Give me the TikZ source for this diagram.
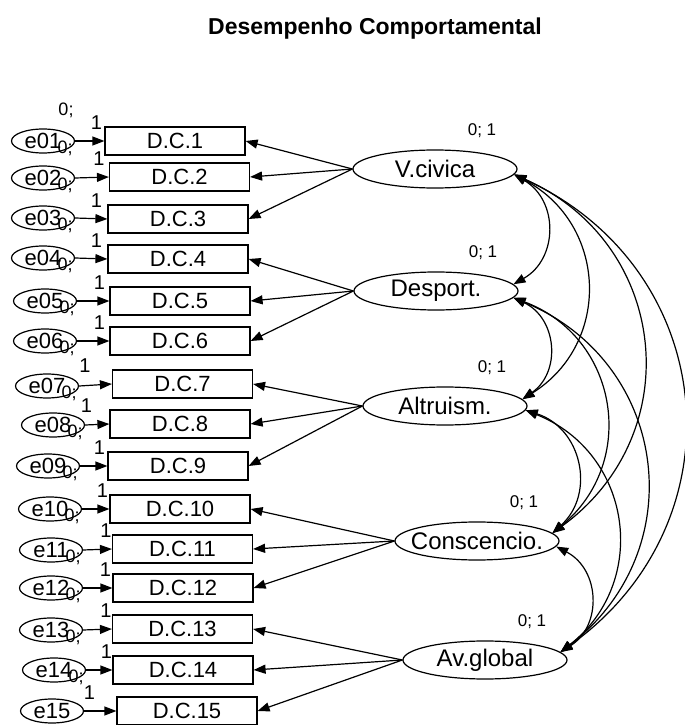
\documentclass[tikz,border=0pt]{standalone}
\usepackage{fontspec}
\setmainfont{Liberation Sans}
\usetikzlibrary{arrows.meta,calc,positioning,shapes.geometric}
\tikzset{>={Triangle[length=6pt,width=4.5pt]},
  ttl/.style={font=\bfseries\fontsize{11.5}{12}\selectfont,anchor=base,inner sep=0pt},
  err/.style={draw,ellipse,minimum width=31.5pt,minimum height=12pt,inner sep=0pt,font=\fontsize{11}{11}\selectfont},
  obs/.style={draw,rectangle,minimum width=70pt,minimum height=14pt,inner sep=0pt,font=\fontsize{11}{11}\selectfont},
  lat/.style={draw,ellipse,minimum width=82pt,minimum height=19pt,inner xsep=-5pt,inner ysep=0pt,font=\fontsize{12}{12}\selectfont},
  wt/.style={font=\fontsize{10}{10}\selectfont,inner sep=0pt},
  zv/.style={font=\fontsize{9}{9}\selectfont,inner sep=0pt,anchor=west},
  mv/.style={font=\fontsize{8.5}{8.5}\selectfont,inner sep=0pt},
  cov/.style={<->,bend left=60,looseness=1.2}}
\begin{document}
\begin{tikzpicture}[x=0.5pt,y=0.5pt,line width=0.6pt]
  \useasboundingbox (0,0) rectangle (685,725);
  \node[ttl] (title) at (375,690) {Desempenho Comportamental};
  % factors
  \node[lat] (vc) at (435,556) {V.civica};
  \node[lat] (dp) at (436,434) {Desport.};
  \node[lat] (al) at (445,319) {Altruism.};
  \node[lat] (co) at (477,184) {Conscencio.};
  \node[lat] (av) at (485,65) {Av.global};
  \foreach \l in {vc,dp,al,co,av}
    \node[mv] (m\l) at ($(\l)+(47,38)$) {0; 1};
  % items with their errors
  \foreach \n/\m/\ex/\ey/\bx/\by/\ox in {01/1/43/584/175/584/-8,02/2/43/547/179.5/548/-10,
      03/3/43/507/178/506/-11,04/4/43/467/178/466/-11,05/5/45/424/180/424/-10,
      06/6/45/384/180/384/-10,07/7/47/339/182.5/341/-27,08/8/53/300/180/301/-23,
      09/9/48/259/178/259/-8,10/10/50/216/180/216/-7,11/11/51/175/182.5/176/-6,
      12/12/51/137/183/137/-7,13/13/51/95/182.5/96/-6,14/14/54/55/183/55/-6,
      15/15/52/14/187/14/-27}{
    \node[err] (e\n) at (\ex,\ey) {e\n};
    \node[obs] (dc\m) at (\bx,\by) {D.C.\m};
    \node[wt] (w\m) at ($(dc\m.north west)+(\ox,4)$) {1};
    \draw[->] (e\n.east) -- (dc\m.west);
  }
  \node[zv,anchor=center] (zt) at (66,615) {0;};
  \foreach \n in {01,02,03,04,05,06,07,08,09,10,11,12,13,14}
    \node[zv] (z\n) at ($(e\n.east)+(-18,-7)$) {0;};
  % loadings
  \foreach \l/\a/\b/\c in {vc/1/2/3,dp/4/5/6,al/7/8/9,co/10/11/12,av/13/14/15}{
    \draw[->] (\l.west) -- (dc\a.east);
    \draw[->] (\l.west) -- (dc\b.east);
    \draw[->] (\l.west) -- (dc\c.east);
  }
  % covariances
  \draw[cov] (vc.-4) to (dp.5);
  \draw[cov] (vc.-4) to (al.5);
  \draw[cov] (vc.-4) to (co.6);
  \draw[cov] (vc.-4) to (av.6);
  \draw[cov] (dp.-5) to (al.5);
  \draw[cov] (dp.-5) to (co.6);
  \draw[cov] (dp.-5) to (av.6);
  \draw[cov] (al.-3) to (co.6);
  \draw[cov] (al.-3) to (av.6);
  \draw[cov] (co.-4) to (av.6);
\end{tikzpicture}
\end{document}
